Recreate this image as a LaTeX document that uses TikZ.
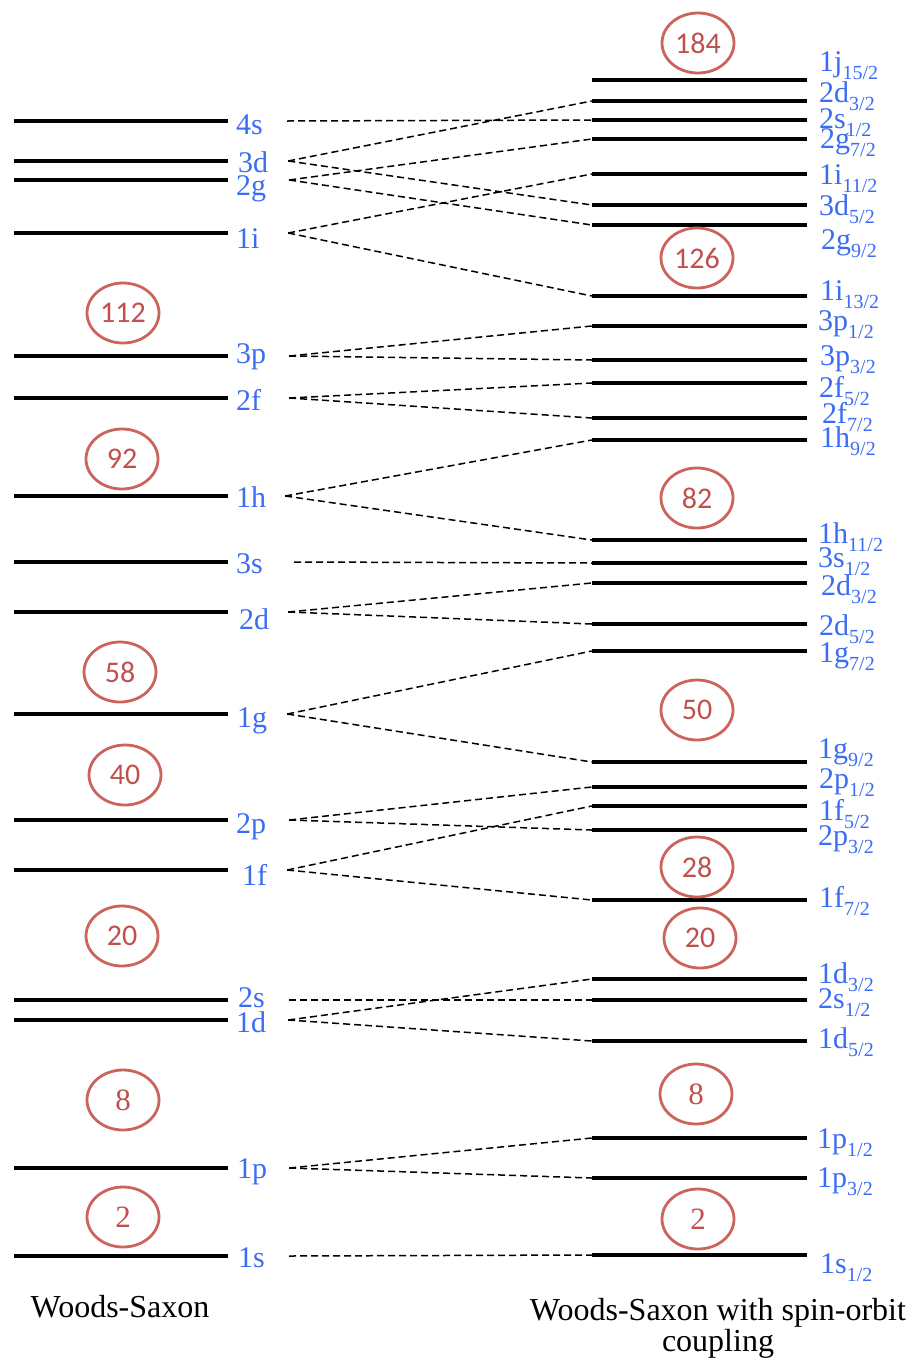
\documentclass[tikz,border=0pt]{standalone}
\usepackage{fontspec}
\setmainfont{Liberation Serif}
\newfontfamily\magicfont{Carlito}
\usetikzlibrary{positioning, shapes.geometric}
\definecolor{lvlLab}{RGB}{59,108,245}
\definecolor{magicEdge}{RGB}{205,100,92}
\definecolor{magicText}{RGB}{192,80,77}
\newcommand{\jsub}[1]{\raisebox{-8pt}{\fontsize{20}{20}\selectfont #1}}

\begin{document}
\begin{tikzpicture}[
    x=1pt, y=-1pt,
    wslevel/.style={fill=black, inner sep=0pt, minimum height=3.8pt, minimum width=214pt},
    solevel/.style={fill=black, inner sep=0pt, minimum height=3.8pt, minimum width=215pt},
    lab/.style={anchor=base west, inner sep=0pt, text=lvlLab, font=\fontsize{30}{30}\selectfont},
    magic/.style={ellipse, draw=magicEdge, line width=2.8pt, minimum width=72pt, minimum height=60pt, inner sep=0pt, text=magicText, font=\magicfont\fontsize{30}{30}\selectfont},
    magicserif/.style={magic, font=\fontsize{31}{31}\selectfont},
    split/.style={dash pattern=on 7pt off 4pt, line width=1.5pt},
    title/.style={inner sep=0pt, align=center, font=\fontsize{32}{31}\selectfont}
]
\useasboundingbox (0,0) rectangle (916,1366);

% Woods-Saxon levels (left)
\node[wslevel] (ws4s) at (121,121) {};
\node[wslevel] (ws3d) at (121,161) {};
\node[wslevel] (ws2g) at (121,180) {};
\node[wslevel] (ws1i) at (121,233) {};
\node[wslevel] (ws3p) at (121,356) {};
\node[wslevel] (ws2f) at (121,398) {};
\node[wslevel] (ws1h) at (121,496) {};
\node[wslevel] (ws3s) at (121,562) {};
\node[wslevel] (ws2d) at (121,612) {};
\node[wslevel] (ws1g) at (121,714) {};
\node[wslevel] (ws2p) at (121,820) {};
\node[wslevel] (ws1f) at (121,870) {};
\node[wslevel] (ws2s) at (121,1000) {};
\node[wslevel] (ws1d) at (121,1020) {};
\node[wslevel] (ws1p) at (121,1168) {};
\node[wslevel] (ws1s) at (121,1256) {};

\node[lab] (l4s) at (236,134) {4s};
\node[lab] (l3d) at (238,172) {3d};
\node[lab] (l2g) at (236,195) {2g};
\node[lab] (l1i) at (236,248) {1i};
\node[lab] (l3p) at (236,363) {3p};
\node[lab] (l2f) at (236,410) {2f};
\node[lab] (l1h) at (236,507) {1h};
\node[lab] (l3s) at (236,573) {3s};
\node[lab] (l2d) at (239,629) {2d};
\node[lab] (l1g) at (237,727) {1g};
\node[lab] (l2p) at (236,833) {2p};
\node[lab] (l1f) at (242,885) {1f};
\node[lab] (l2s) at (238,1007) {2s};
\node[lab] (l1d) at (236,1032) {1d};
\node[lab] (l1p) at (237,1178) {1p};
\node[lab] (l1s) at (238,1267) {1s};

% Levels with spin-orbit coupling (right)
\node[solevel] (so1j15) at (699.5,80) {};
\node[solevel] (so2d3top) at (699.5,101) {};
\node[solevel] (so2s1top) at (699.5,120) {};
\node[solevel] (so2g7) at (699.5,139) {};
\node[solevel] (so1i11) at (699.5,174) {};
\node[solevel] (so3d5) at (699.5,205) {};
\node[solevel] (so2g9) at (699.5,225) {};
\node[solevel] (so1i13) at (699.5,296) {};
\node[solevel] (so3p1) at (699.5,326) {};
\node[solevel] (so3p3) at (699.5,360) {};
\node[solevel] (so2f5) at (699.5,383) {};
\node[solevel] (so2f7) at (699.5,418) {};
\node[solevel] (so1h9) at (699.5,440) {};
\node[solevel] (so1h11) at (699.5,540) {};
\node[solevel] (so3s1) at (699.5,563) {};
\node[solevel] (so2d3) at (699.5,583) {};
\node[solevel] (so2d5) at (699.5,624) {};
\node[solevel] (so1g7) at (699.5,651) {};
\node[solevel] (so1g9) at (699.5,762) {};
\node[solevel] (so2p1) at (699.5,787) {};
\node[solevel] (so1f5) at (699.5,806) {};
\node[solevel] (so2p3) at (699.5,830) {};
\node[solevel] (so1f7) at (699.5,900) {};
\node[solevel] (so1d3) at (699.5,979) {};
\node[solevel] (so2s1) at (699.5,1000) {};
\node[solevel] (so1d5) at (699.5,1041) {};
\node[solevel] (so1p1) at (699.5,1138) {};
\node[solevel] (so1p3) at (699.5,1178) {};
\node[solevel] (so1s1) at (699.5,1255) {};

\node[lab] (r1j15) at (819,71) {1j\jsub{15/2}};
\node[lab] (r2d3top) at (819,102) {2d\jsub{3/2}};
\node[lab] (r2s1top) at (819,128) {2s\jsub{1/2}};
\node[lab] (r2g7) at (820,148) {2g\jsub{7/2}};
\node[lab] (r1i11) at (819,184) {1i\jsub{11/2}};
\node[lab] (r3d5) at (819,215) {3d\jsub{5/2}};
\node[lab] (r2g9) at (821,249) {2g\jsub{9/2}};
\node[lab] (r1i13) at (820,300) {1i\jsub{13/2}};
\node[lab] (r3p1) at (818,330) {3p\jsub{1/2}};
\node[lab] (r3p3) at (820,365) {3p\jsub{3/2}};
\node[lab] (r2f5) at (819,397) {2f\jsub{5/2}};
\node[lab] (r2f7) at (822,423) {2f\jsub{7/2}};
\node[lab] (r1h9) at (820,447) {1h\jsub{9/2}};
\node[lab] (r1h11) at (818,543) {1h\jsub{11/2}};
\node[lab] (r3s1) at (818,567) {3s\jsub{1/2}};
\node[lab] (r2d3) at (821,595) {2d\jsub{3/2}};
\node[lab] (r2d5) at (819,635) {2d\jsub{5/2}};
\node[lab] (r1g7) at (819,662) {1g\jsub{7/2}};
\node[lab] (r1g9) at (818,758) {1g\jsub{9/2}};
\node[lab] (r2p1) at (819,788) {2p\jsub{1/2}};
\node[lab] (r1f5) at (819,820) {1f\jsub{5/2}};
\node[lab] (r2p3) at (818,845) {2p\jsub{3/2}};
\node[lab] (r1f7) at (819,907) {1f\jsub{7/2}};
\node[lab] (r1d3) at (818,983) {1d\jsub{3/2}};
\node[lab] (r2s1) at (818,1008) {2s\jsub{1/2}};
\node[lab] (r1d5) at (818,1048) {1d\jsub{5/2}};
\node[lab] (r1p1) at (817,1148) {1p\jsub{1/2}};
\node[lab] (r1p3) at (817,1187) {1p\jsub{3/2}};
\node[lab] (r1s1) at (820,1273) {1s\jsub{1/2}};

% Magic numbers
\node[magic] (m112) at (123,313) {112};
\node[magic] (m92) at (122,459) {92};
\node[magic] (m58) at (120,672) {58};
\node[magic] (m40) at (125,775) {40};
\node[magic] (m20) at (122,936) {20};
\node[magicserif] (m8) at (123,1100) {8};
\node[magicserif] (m2) at (123,1217) {2};

\node[magic] (n184) at (698,43) {184};
\node[magic] (n126) at (697,258) {126};
\node[magic] (n82) at (697,498) {82};
\node[magic] (n50) at (697,710) {50};
\node[magic] (n28) at (697,867) {28};
\node[magic] (n20) at (700,938) {20};
\node[magicserif] (n8) at (696,1094) {8};
\node[magicserif] (n2) at (698,1219) {2};

% Splitting (dashed)
\draw[split] ([xshift=59pt]ws4s.east) -- (so2s1top.west);
\draw[split] ([xshift=60pt]ws3d.east) -- (so2d3top.west);
\draw[split] ([xshift=60pt]ws3d.east) -- (so3d5.west);
\draw[split] ([xshift=61pt]ws2g.east) -- (so2g7.west);
\draw[split] ([xshift=61pt]ws2g.east) -- (so2g9.west);
\draw[split] ([xshift=60pt]ws1i.east) -- (so1i11.west);
\draw[split] ([xshift=60pt]ws1i.east) -- (so1i13.west);
\draw[split] ([xshift=61pt]ws3p.east) -- (so3p1.west);
\draw[split] ([xshift=61pt]ws3p.east) -- (so3p3.west);
\draw[split] ([xshift=61pt]ws2f.east) -- (so2f5.west);
\draw[split] ([xshift=61pt]ws2f.east) -- (so2f7.west);
\draw[split] ([xshift=57pt]ws1h.east) -- (so1h9.west);
\draw[split] ([xshift=57pt]ws1h.east) -- (so1h11.west);
\draw[split] ([xshift=66pt]ws3s.east) -- (so3s1.west);
\draw[split] ([xshift=60pt]ws2d.east) -- (so2d3.west);
\draw[split] ([xshift=60pt]ws2d.east) -- (so2d5.west);
\draw[split] ([xshift=59pt]ws1g.east) -- (so1g7.west);
\draw[split] ([xshift=59pt]ws1g.east) -- (so1g9.west);
\draw[split] ([xshift=61pt]ws2p.east) -- (so2p1.west);
\draw[split] ([xshift=61pt]ws2p.east) -- (so2p3.west);
\draw[split] ([xshift=59pt]ws1f.east) -- (so1f5.west);
\draw[split] ([xshift=59pt]ws1f.east) -- (so1f7.west);
\draw[split] ([xshift=61pt]ws2s.east) -- (so2s1.west);
\draw[split] ([xshift=60pt]ws1d.east) -- (so1d3.west);
\draw[split] ([xshift=60pt]ws1d.east) -- (so1d5.west);
\draw[split] ([xshift=61pt]ws1p.east) -- (so1p1.west);
\draw[split] ([xshift=61pt]ws1p.east) -- (so1p3.west);
\draw[split] ([xshift=61pt]ws1s.east) -- (so1s1.west);

% Titles
\node[title] (wsname) at (120,1307) {Woods-Saxon};
\node[title] (soname) at (718,1328) {Woods-Saxon with spin-orbit\\coupling};

\end{tikzpicture}
\end{document}
